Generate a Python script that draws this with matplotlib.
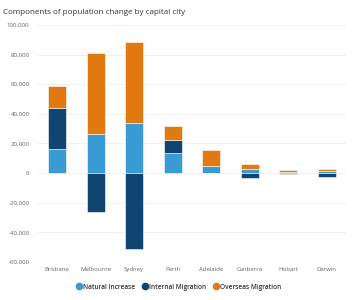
import matplotlib
matplotlib.use("Agg")
import matplotlib.pyplot as plt
from matplotlib.lines import Line2D
import numpy as np

cities = ["Brisbane", "Melbourne", "Sydney", "Perth", "Adelaide", "Canberra", "Hobart", "Darwin"]
natural = [16200, 26600, 34000, 13500, 4700, 2900, 800, 1400]
internal = [28000, -26400, -51600, 8600, -300, -3300, -700, -2500]
overseas = [14500, 54300, 54700, 9900, 11000, 3400, 1300, 1200]
yticks = [-60000, -40000, -20000, 0, 20000, 40000, 60000, 80000, 100000]

series = [("Natural Increase", natural, "#3a9ad3"),
          ("Internal Migration", internal, "#0f4570"),
          ("Overseas Migration", overseas, "#e27a12")]

plt.rcParams['font.family'] = ['Open Sans', 'DejaVu Sans']
fig = plt.figure(figsize=(3.57, 3.0), dpi=100)
ax = fig.add_axes([0.106, 0.127, 0.863, 0.79])

x = np.arange(len(cities))
pos_base = np.zeros(len(cities))
neg_base = np.zeros(len(cities))
for name, vals, col in series:
    v = np.array(vals, dtype=float)
    bottoms = np.where(v >= 0, pos_base, neg_base)
    ax.bar(x, v, bottom=bottoms, width=0.47, color=col, edgecolor="white", linewidth=0.4, zorder=3)
    pos_base = pos_base + np.where(v >= 0, v, 0)
    neg_base = neg_base + np.where(v < 0, v, 0)

ax.set_xlim(-0.5, len(cities) - 0.5)
ax.set_ylim(-60000, 100000)
ax.set_yticks(yticks)
ax.set_yticklabels([f"{t:,}" for t in yticks])
ax.set_xticks(x)
ax.set_xticklabels(cities)
ax.grid(axis="y", color="#eeeeee", linewidth=0.6, zorder=0)
ax.axhline(-60000, color="#cccccc", linewidth=0.6, zorder=1)
for s in ax.spines.values():
    s.set_visible(False)
ax.tick_params(axis="y", length=0, labelsize=4.4, colors="#666666", pad=6)
ax.tick_params(axis="x", length=0, labelsize=4.3, colors="#666666", pad=4)

fig.text(0.008, 0.96, "Components of population change by capital city", fontsize=5.8,
         color="#333333", va="center", ha="left")

handles = [Line2D([0], [0], marker="o", linestyle="", markersize=4.5, markerfacecolor=c,
                  markeredgecolor=c, label=n) for n, _, c in series]
leg = fig.legend(handles=handles, loc="center", bbox_to_anchor=(0.5, 0.043), ncol=3,
                 frameon=False, fontsize=4.7, handletextpad=0.2, columnspacing=0.9,
                 handlelength=1.0)
for t in leg.get_texts():
    t.set_color("#333333")
    t.set_fontweight("semibold")

fig.savefig("out.png", dpi=100)
